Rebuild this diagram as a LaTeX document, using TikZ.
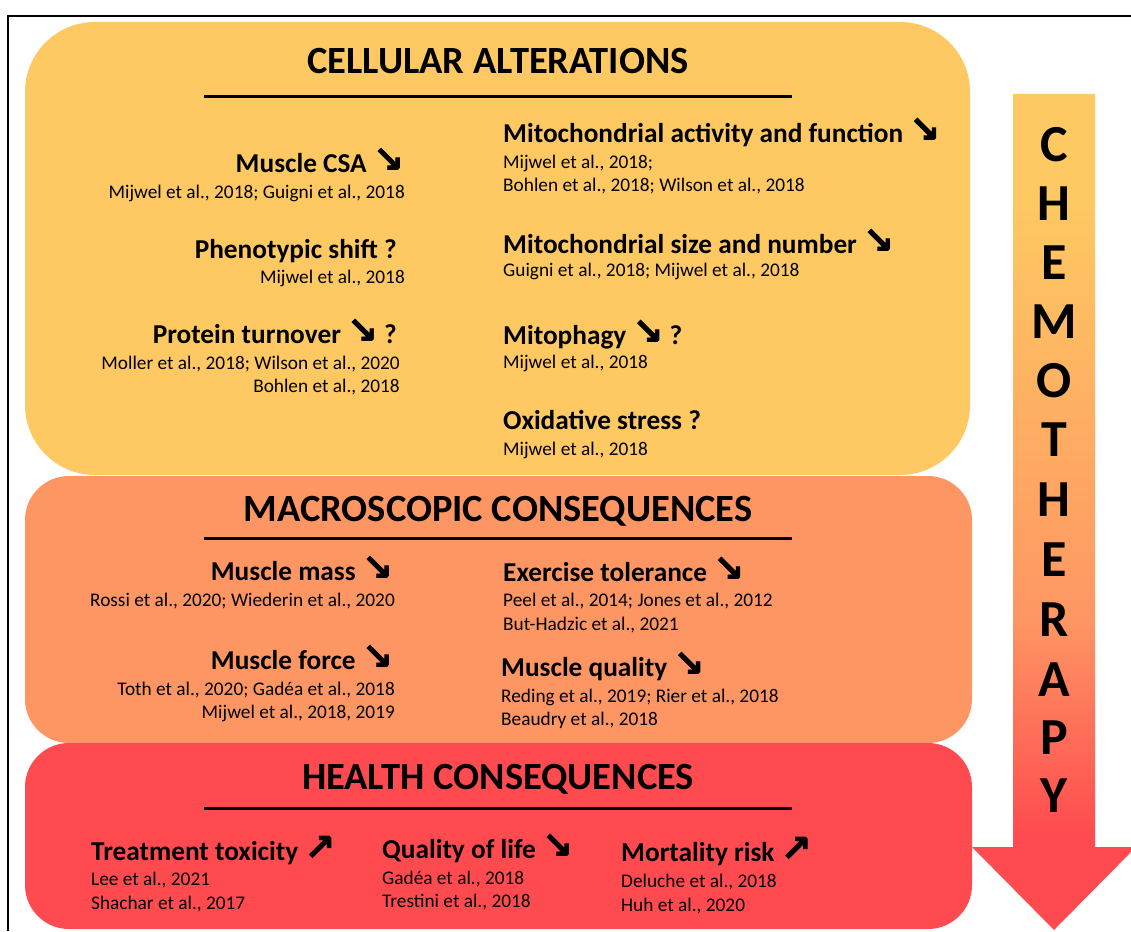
\documentclass[tikz,border=0pt]{standalone}
\usepackage{fontspec}
\setmainfont{Carlito}
\newfontfamily\arrfont[FakeBold=2]{DejaVu Sans Bold}
\definecolor{cyel}{HTML}{FEC962}
\definecolor{cora}{HTML}{FE9663}
\definecolor{cred}{HTML}{FF4B4F}
\pgfdeclareverticalshading{chemoshade}{100bp}{color(0bp)=(cred); color(30.7bp)=(cred); color(43.5bp)=(cora); color(68.7bp)=(cyel); color(100bp)=(cyel)}
\newcommand{\dn}{{\arrfont\scalebox{1.35}{↘}}}
\newcommand{\up}{{\arrfont\scalebox{1.35}{↗}}}
\begin{document}
\begin{tikzpicture}[x=1pt,y=-1pt,
  ttl/.style={font=\bfseries\fontsize{38.5}{40}\selectfont, inner sep=0pt, anchor=base},
  hdr/.style={font=\bfseries\fontsize{27.3}{29}\selectfont, inner sep=0pt},
  hdl/.style={hdr, anchor=base west},
  hdrr/.style={hdr, anchor=base east},
  rf/.style={font=\fontsize{19.3}{21}\selectfont, inner sep=0pt},
  rfl/.style={rf, anchor=base west},
  rfr/.style={rf, anchor=base east},
  chl/.style={font=\bfseries\fontsize{52}{54}\selectfont, inner sep=0pt, anchor=base},
  uline/.style={line width=3pt}]
\useasboundingbox (0,0) rectangle (1131,931);
% frame
\coordinate (fa) at (8,931);
\coordinate (fb) at (8,16);
\coordinate (fc) at (1131,16);
\draw[line width=2pt] (fa) -- (fb) -- (fc);
% boxes
\fill[cyel, rounded corners=70pt] (25,22) rectangle (970,475);
\fill[cora, rounded corners=44pt] (25,476) rectangle (972,743);
\fill[cred, rounded corners=44pt] (25,743) rectangle (972,929);
% arrow
\shade[shading=chemoshade] (1013,94) -- (1095,94) -- (1095,847) -- (1136,847) -- (1054,930) -- (972,847) -- (1013,847) -- cycle;
% CHEMOTHERAPY
\foreach \l/\yy [count=\i] in {C/161,H/220,E/279,M/338,O/397,T/456,H/516,E/576,R/636,A/696,P/754,Y/812}
  \node[chl] (ch\i) at (1054,\yy) {\l};
% titles
\node[ttl] (t1) at (498,74) {CELLULAR ALTERATIONS};
\node[ttl] (t2) at (498,521) {MACROSCOPIC CONSEQUENCES};
\node[ttl] (t3) at (498,789) {HEALTH CONSEQUENCES};
\coordinate (u1a) at (204,97); \coordinate (u1b) at (792,97);
\coordinate (u2a) at (204,538); \coordinate (u2b) at (792,538);
\coordinate (u3a) at (204,808); \coordinate (u3b) at (792,808);
\draw[uline] (u1a) -- (u1b);
\draw[uline] (u2a) -- (u2b);
\draw[uline] (u3a) -- (u3b);
% cellular left
\node[hdrr] (csa) at (404,172) {Muscle CSA \dn};
\node[rfr] (csar) at (405,198.5) {Mijwel et al., 2018; Guigni et al., 2018};
\node[hdrr] (phe) at (397,258) {Phenotypic shift ?};
\node[rfr] (pher) at (405,283.5) {Mijwel et al., 2018};
\node[hdrr] (pro) at (397,343) {Protein turnover \dn\ ?};
\node[rfr] (pror1) at (400,369.5) {Moller et al., 2018; Wilson et al., 2020};
\node[rfr] (pror2) at (400,392.5) {Bohlen et al., 2018};
% cellular right
\node[hdl] (mit1) at (503,142) {Mitochondrial activity and function \dn};
\node[rfl] (mit1a) at (503,168.5) {Mijwel et al., 2018;};
\node[rfl] (mit1b) at (503,191.5) {Bohlen et al., 2018; Wilson et al., 2018};
\node[hdl] (mit2) at (503,253) {Mitochondrial size and number \dn};
\node[rfl] (mit2a) at (503,276.5) {Guigni et al., 2018; Mijwel et al., 2018};
\node[hdl] (mph) at (503,344) {Mitophagy \dn\ ?};
\node[rfl] (mpha) at (503,368.5) {Mijwel et al., 2018};
\node[hdl] (oxs) at (503,429) {Oxidative stress ?};
\node[rfl] (oxsa) at (503,455.5) {Mijwel et al., 2018};
% macroscopic
\node[hdrr] (mm) at (393,580) {Muscle mass \dn};
\node[rfr] (mma) at (395,606.5) {Rossi et al., 2020; Wiederin et al., 2020};
\node[hdrr] (mf) at (393,669) {Muscle force \dn};
\node[rfr] (mfa) at (395,695.5) {Toth et al., 2020; Gadéa et al., 2018};
\node[rfr] (mfb) at (395,718.5) {Mijwel et al., 2018, 2019};
\node[hdl] (ex) at (503,581) {Exercise tolerance \dn};
\node[rfl] (exa) at (503,606.5) {Peel et al., 2014; Jones et al., 2012};
\node[rfl] (exb) at (503,630.5) {But-Hadzic et al., 2021};
\node[hdl] (mq) at (501,676) {Muscle quality \dn};
\node[rfl] (mqa) at (501,702.5) {Reding et al., 2019; Rier et al., 2018};
\node[rfl] (mqb) at (501,725.5) {Beaudry et al., 2018};
% health
\node[hdl] (tt) at (91,860) {Treatment toxicity \up};
\node[rfl] (tta) at (91,885.5) {Lee et al., 2021};
\node[rfl] (ttb) at (91,909.5) {Shachar et al., 2017};
\node[hdl] (ql) at (382,858) {Quality of life \dn};
\node[rfl] (qla) at (382,884.5) {Gadéa et al., 2018};
\node[rfl] (qlb) at (382,907.5) {Trestini et al., 2018};
\node[hdl] (mr) at (621,861) {Mortality risk \up};
\node[rfl] (mra) at (621,887.5) {Deluche et al., 2018};
\node[rfl] (mrb) at (621,911.5) {Huh et al., 2020};
\end{tikzpicture}
\end{document}
